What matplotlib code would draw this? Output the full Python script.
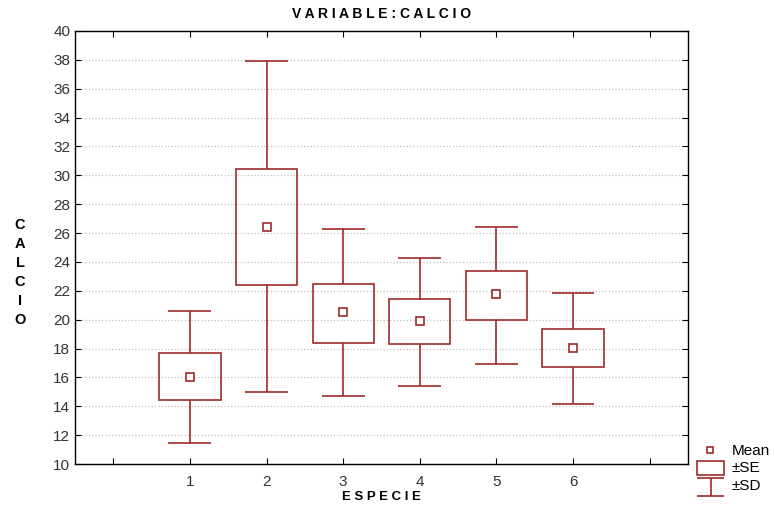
import numpy as np
import matplotlib
matplotlib.use("Agg")
from matplotlib import pyplot as plt
from matplotlib.patches import Rectangle

plt.rcParams['font.family'] = ['Liberation Sans', 'DejaVu Sans']

especie = [1, 2, 3, 4, 5, 6]
mean = [16.0, 26.45, 20.5, 19.9, 21.75, 18.05]
se_lo = [14.4, 22.4, 18.4, 18.3, 20.0, 16.7]
se_hi = [17.7, 30.45, 22.5, 21.4, 23.4, 19.35]
sd_lo = [11.45, 15.0, 14.7, 15.4, 16.95, 14.15]
sd_hi = [20.6, 37.9, 26.3, 24.3, 26.45, 21.85]

col = '#a02a2a'
box_w = 0.8
cap_w = 0.56

fig = plt.figure(figsize=(7.75, 5.08), dpi=100)
ax = fig.add_axes([0.0968, 0.0866, 0.7909, 0.8524])

for i, x in enumerate(especie):
    ax.add_patch(Rectangle((x - box_w / 2, se_lo[i]), box_w, se_hi[i] - se_lo[i],
                           fill=False, edgecolor=col, lw=1.2, zorder=3))
    ax.vlines(x, se_hi[i], sd_hi[i], color=col, lw=1.2, zorder=3)
    ax.vlines(x, sd_lo[i], se_lo[i], color=col, lw=1.2, zorder=3)
    ax.hlines([sd_lo[i], sd_hi[i]], x - cap_w / 2, x + cap_w / 2, color=col, lw=1.2, zorder=3)
ax.plot(especie, mean, ls='none', marker='s', ms=6, mfc='white', mec=col, mew=1.2, zorder=4)

ax.set_xlim(-0.5, 7.5)
ax.set_ylim(10, 40)
ax.set_xticks(range(0, 8))
ax.set_xticklabels([''] + [str(e) for e in especie] + [''])
ax.set_yticks(range(10, 41, 2))
ax.tick_params(direction='in', top=True, right=True, labelsize=11, length=4,
               colors='black', labelcolor='#333333')
ax.tick_params(axis='x', pad=8)
ax.yaxis.grid(True, ls=':', color='#c0c0c0', lw=0.9)
ax.set_axisbelow(True)
for s in ax.spines.values():
    s.set_linewidth(1.0)

fig.text(0.492, 0.972, 'V A R I A B L E : C A L C I O', ha='center', va='center',
         fontsize=10, fontweight='bold')
fig.text(0.492, 0.021, 'E S P E C I E', ha='center', va='center',
         fontsize=9.5, fontweight='bold')
fig.text(0.026, 0.463, 'C\nA\nL\nC\nI\nO', ha='center', va='center',
         fontsize=10.5, fontweight='bold', linespacing=1.45)

# legend
lg = fig.add_axes([0.895, 0.0, 0.105, 0.14])
lg.set_xlim(0, 77)
lg.set_ylim(71, 0)
lg.axis('off')
lg.plot([15.5], [13], ls='none', marker='s', ms=5, mfc='white', mec=col, mew=1.2)
lg.text(36, 14, 'Mean', va='center', fontsize=11)
lg.add_patch(Rectangle((3, 24), 26, 14, fill=False, edgecolor=col, lw=1.2))
lg.text(36, 31, '±SE', va='center', fontsize=11)
lg.hlines([41, 59], 3, 29, color=col, lw=1.2)
lg.vlines(16, 41, 59, color=col, lw=1.2)
lg.text(36, 49, '±SD', va='center', fontsize=11)

fig.savefig('out.png', dpi=100)
